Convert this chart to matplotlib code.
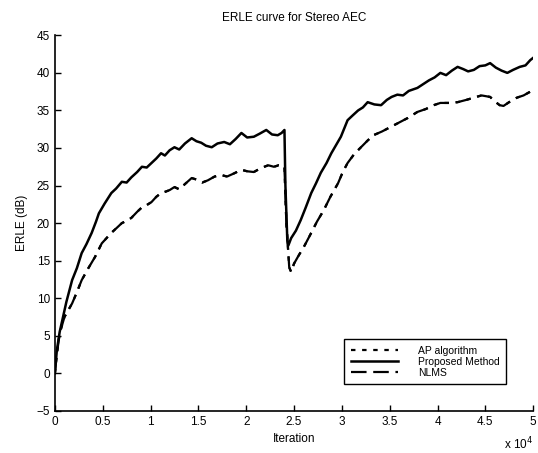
import matplotlib
matplotlib.use('Agg')
import matplotlib.pyplot as plt
import numpy as np

plt.rcParams['font.family'] = ['Liberation Sans', 'DejaVu Sans']

# iteration positions (in units of 1e4) and ERLE in dB
prop_x = [0, 0.02, 0.05, 0.08, 0.12, 0.18, 0.23, 0.28, 0.33, 0.385, 0.43, 0.46, 0.52,
          0.59, 0.64, 0.70, 0.75, 0.80, 0.86, 0.91, 0.96, 1.01, 1.06, 1.11, 1.15, 1.20,
          1.25, 1.30, 1.36, 1.43, 1.48, 1.53, 1.58, 1.64, 1.70, 1.77, 1.83, 1.89, 1.95,
          2.01, 2.08, 2.14, 2.21, 2.27, 2.33, 2.37, 2.40, 2.41, 2.43, 2.44, 2.47, 2.52,
          2.57, 2.62, 2.68, 2.73, 2.78, 2.84, 2.89, 2.94, 2.99, 3.06, 3.11, 3.17, 3.22,
          3.27, 3.34, 3.41, 3.47, 3.52, 3.58, 3.64, 3.70, 3.79, 3.85, 3.91, 3.97, 4.03,
          4.09, 4.15, 4.21, 4.27, 4.32, 4.38, 4.44, 4.50, 4.55, 4.61, 4.67, 4.73, 4.79,
          4.86, 4.92, 4.97, 5.0]
prop_erle = [0, 3.0, 5.5, 7.2, 9.5, 12.4, 14.0, 16.0, 17.2, 18.7, 20.2, 21.3, 22.6,
             24.0, 24.6, 25.5, 25.4, 26.1, 26.8, 27.5, 27.4, 28.0, 28.6, 29.3, 29.0, 29.7,
             30.1, 29.8, 30.6, 31.3, 30.9, 30.7, 30.3, 30.1, 30.6, 30.8, 30.5, 31.2, 32.0,
             31.4, 31.5, 31.9, 32.4, 31.8, 31.7, 32.0, 32.4, 25.0, 17.7, 17.0, 18.0, 19.0,
             20.4, 22.0, 24.0, 25.3, 26.7, 28.0, 29.3, 30.4, 31.5, 33.7, 34.3, 35.0, 35.4,
             36.1, 35.8, 35.7, 36.4, 36.8, 37.1, 37.0, 37.6, 38.0, 38.5, 39.0, 39.4, 40.0,
             39.7, 40.3, 40.8, 40.5, 40.2, 40.4, 40.9, 41.0, 41.3, 40.7, 40.3, 40.0, 40.4,
             40.8, 41.0, 41.7, 42.0]

ap_x = [0, 0.02, 0.05, 0.10, 0.18, 0.23, 0.28, 0.35, 0.42, 0.49, 0.54, 0.59, 0.65,
        0.70, 0.75, 0.80, 0.86, 0.91, 0.96, 1.01, 1.06, 1.11, 1.16, 1.20, 1.25, 1.30,
        1.36, 1.43, 1.48, 1.54, 1.60, 1.67, 1.74, 1.80, 1.87, 1.95, 2.01, 2.08, 2.15,
        2.23, 2.29, 2.34, 2.40, 2.42, 2.45, 2.47, 2.50, 2.54, 2.61, 2.68, 2.74, 2.81,
        2.88, 2.96, 3.01, 3.06, 3.13, 3.20, 3.27, 3.33, 3.42, 3.51, 3.60, 3.69, 3.79,
        3.88, 3.96, 4.03, 4.12, 4.21, 4.30, 4.38, 4.46, 4.55, 4.60, 4.65, 4.69, 4.76,
        4.83, 4.90, 4.97, 5.0]
ap_erle = [0, 2.5, 5.3, 7.5, 9.3, 10.8, 12.4, 14.0, 15.5, 17.3, 18.0, 18.7, 19.4,
           20.0, 20.3, 20.7, 21.5, 22.1, 22.4, 22.8, 23.5, 24.0, 24.2, 24.4, 24.8, 24.5,
           25.2, 26.0, 25.8, 25.4, 25.7, 26.2, 26.4, 26.2, 26.6, 27.1, 26.9, 26.8, 27.3,
           27.7, 27.5, 27.7, 27.5, 20.0, 14.1, 13.5, 14.6, 15.5, 17.0, 18.7, 20.2, 21.7,
           23.5, 25.3, 26.8, 28.0, 29.2, 30.1, 31.0, 31.7, 32.2, 32.8, 33.4, 34.0, 34.8,
           35.2, 35.7, 36.0, 36.0, 36.1, 36.4, 36.7, 37.0, 36.8, 36.2, 35.7, 35.6, 36.2,
           36.7, 37.0, 37.5, 37.6]

# NLMS lies on top of the AP curve in the picture
nlms_x = ap_x
nlms_erle = ap_erle

x_ticks = [0, 0.5, 1, 1.5, 2, 2.5, 3, 3.5, 4, 4.5, 5]
x_tick_labels = ['0', '0.5', '1', '1.5', '2', '2.5', '3', '3.5', '4', '4.5', '5']
y_ticks = [-5, 0, 5, 10, 15, 20, 25, 30, 35, 40, 45]

fig = plt.figure(figsize=(5.38, 4.53), dpi=100)
ax = fig.add_axes([0.102, 0.093, 0.889, 0.829])

scale = 1e4
ax.plot(np.array(ap_x) * scale, ap_erle, color='black', lw=1.6,
        linestyle=(0, (2, 3)), label='AP algorithm')
ax.plot(np.array(prop_x) * scale, prop_erle, color='black', lw=1.8,
        linestyle='-', label='Proposed Method')
ax.plot(np.array(nlms_x) * scale, nlms_erle, color='black', lw=1.6,
        linestyle=(0, (7, 3)), label='NLMS')

ax.set_xlim(0, 5 * scale)
ax.set_ylim(-5, 45)
ax.set_xticks([t * scale for t in x_ticks])
ax.set_xticklabels(x_tick_labels)
ax.set_yticks(y_ticks)

# only the left and bottom axis lines, ticks pointing in
ax.spines[['top', 'right']].set_visible(False)
ax.tick_params(direction='in', length=4, width=1, labelsize=8.5, colors='black')
ax.spines[['left', 'bottom']].set_linewidth(1.2)

ax.set_title('ERLE curve for Stereo AEC', fontsize=8.5, pad=10)
ax.set_xlabel('Iteration', fontsize=8.5, labelpad=4)
ax.set_ylabel('ERLE (dB)', fontsize=8.5, labelpad=6)
ax.text(1.0, -0.088, r'x 10$^4$', transform=ax.transAxes, ha='right', va='center',
        fontsize=8.5)

leg = ax.legend(loc='lower right', bbox_to_anchor=(0.955, 0.058), fontsize=7.5,
                frameon=True, fancybox=False, edgecolor='black', framealpha=1,
                handlelength=4.5, labelspacing=0.1, borderpad=0.6, handletextpad=2.0)
leg.get_frame().set_linewidth(1.0)

fig.savefig('out.png', dpi=100)
